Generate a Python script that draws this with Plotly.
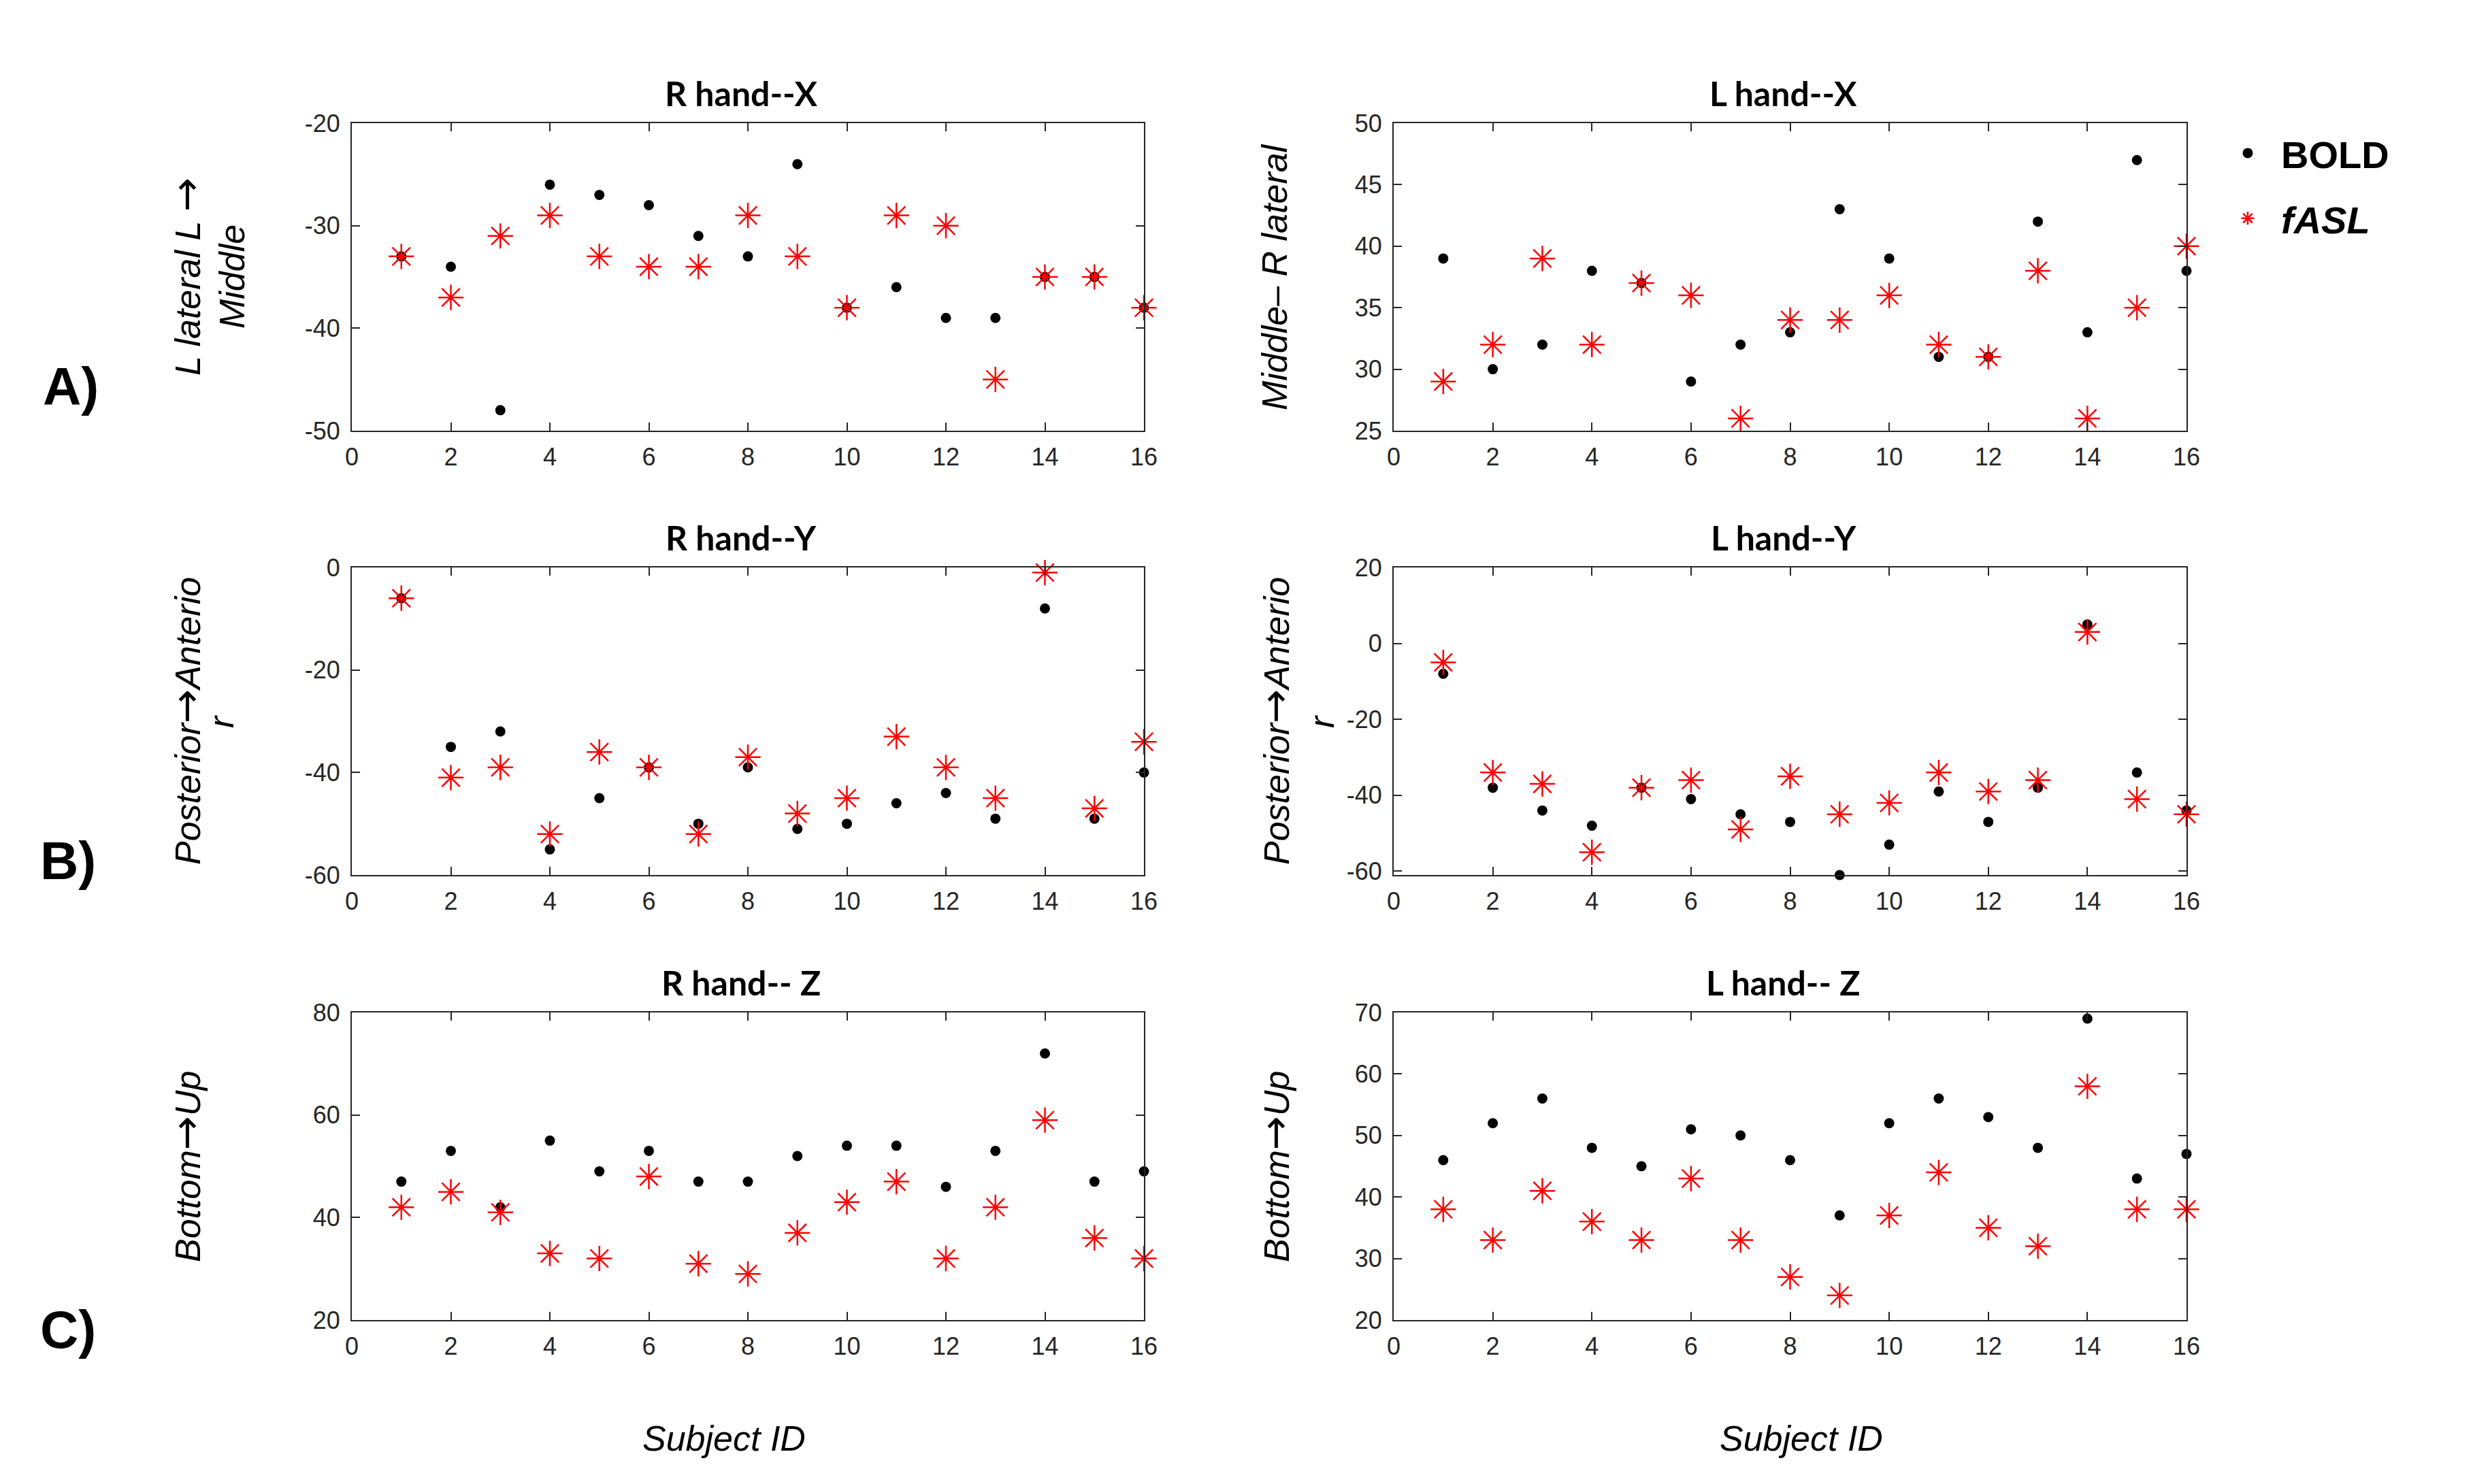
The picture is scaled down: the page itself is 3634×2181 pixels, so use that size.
import plotly.graph_objects as go

W, H = 3634, 2181
OFF = 8                      # page body margin of the html page
FW, FH = W - 2 * OFF, H - 2 * OFF

subjects = list(range(1, 17))

# R hand -- X
rx_bold = [-33, -34, -48, -26, -27, -28, -31, -33, -24, -38, -36, -39, -39, -35, -35, -38]
rx_fasl = [-33, -37, -31, -29, -33, -34, -34, -29, -33, -38, -29, -30, -45, -35, -35, -38]
# L hand -- X
lx_bold = [39, 30, 32, 38, 37, 29, 32, 33, 43, 39, 31, 31, 42, 33, 47, 38]
lx_fasl = [29, 32, 39, 32, 37, 36, 26, 34, 34, 36, 32, 31, 38, 26, 35, 40]
# R hand -- Y
ry_bold = [-6, -35, -32, -55, -45, -39, -50, -39, -51, -50, -46, -44, -49, -8, -49, -40]
ry_fasl = [-6, -41, -39, -52, -36, -39, -52, -37, -48, -45, -33, -39, -45, -1, -47, -34]
# L hand -- Y
ly_bold = [-8, -38, -44, -48, -38, -41, -45, -47, -61, -53, -39, -47, -38, 5, -34, -44]
ly_fasl = [-5, -34, -37, -55, -38, -36, -49, -35, -45, -42, -34, -39, -36, 3, -41, -45]
# R hand -- Z
rz_bold = [47, 53, 42, 55, 49, 53, 47, 47, 52, 54, 54, 46, 53, 72, 47, 49]
rz_fasl = [42, 45, 41, 33, 32, 48, 31, 29, 37, 43, 47, 32, 42, 59, 36, 32]
# L hand -- Z
lz_bold = [46, 52, 56, 48, 45, 51, 50, 46, 37, 52, 56, 53, 48, 69, 43, 47]
lz_fasl = [38, 33, 41, 36, 33, 43, 33, 27, 24, 37, 44, 35, 32, 58, 38, 38]

panel_titles = ["R hand--X", "L hand--X", "R hand--Y", "L hand--Y", "R hand-- Z", "L hand-- Z"]
y_ranges = [[-50, -20], [25, 50], [-60, 0], [-61, 20], [20, 80], [20, 70]]
y_ticks = [[-50, -40, -30, -20], [25, 30, 35, 40, 45, 50], [-60, -40, -20, 0],
           [-60, -40, -20, 0, 20], [20, 40, 60, 80], [20, 30, 40, 50, 60, 70]]
y_ticklabels = [["-50", "-40", "-30", "-20"], ["25", "30", "35", "40", "45", "50"],
                ["-60", "-40", "-20", "0"], ["-60", "-40", "-20", "0", "20"],
                ["20", "40", "60", "80"], ["20", "30", "40", "50", "60", "70"]]
x_ticks = [0, 2, 4, 6, 8, 10, 12, 14, 16]
bold_series = [rx_bold, lx_bold, ry_bold, ly_bold, rz_bold, lz_bold]
fasl_series = [rx_fasl, lx_fasl, ry_fasl, ly_fasl, rz_fasl, lz_fasl]
row_labels = ["A)", "B)", "C)"]

# layout geometry (window pixels)
col_x = [(517, 1681), (2048, 3213)]
row_y = [(181, 633), (834, 1286), (1488, 1940)]

def px(x):
    return (x - OFF) / FW

def py(y):
    return 1 - (y - OFF) / FH

AX = "#262626"
TICKFONT = dict(family="Liberation Sans, Arial", size=36, color=AX)
ARROW = "<span style='font-family:DejaVu Sans;font-size:60px;font-style:normal'>→</span>"

fig = go.Figure()
layout = dict(
    width=FW, height=FH, autosize=False,
    margin=dict(l=0, r=0, t=0, b=0, pad=0, autoexpand=False),
    paper_bgcolor="white", plot_bgcolor="white",
    showlegend=True,
)

annotations = []
for i in range(6):
    r, c = divmod(i, 2)
    n = i + 1
    xa = "x" if n == 1 else f"x{n}"
    ya = "y" if n == 1 else f"y{n}"
    xkey = "xaxis" if n == 1 else f"xaxis{n}"
    ykey = "yaxis" if n == 1 else f"yaxis{n}"
    x0, x1 = col_x[c]
    y0, y1 = row_y[r]
    common = dict(showline=True, mirror="ticks", linecolor=AX, linewidth=2,
                  ticks="inside", ticklen=12, tickwidth=2, tickcolor=AX,
                  showgrid=False, zeroline=False, tickfont=TICKFONT, automargin=False)
    layout[xkey] = dict(domain=[px(x0), px(x1)], anchor=ya, range=[0, 16],
                        tickvals=x_ticks, ticktext=[str(v) for v in x_ticks],
                        ticklabelstandoff=6, **common)
    layout[ykey] = dict(domain=[py(y1), py(y0)], anchor=xa, range=y_ranges[i],
                        tickvals=y_ticks[i], ticktext=y_ticklabels[i],
                        ticklabelstandoff=8, **common)

    fig.add_trace(go.Scatter(
        x=subjects, y=bold_series[i], mode="markers", xaxis=xa, yaxis=ya,
        name="<b>BOLD</b>", legendgroup="bold", showlegend=(i == 0),
        marker=dict(symbol="circle", size=15, color="black"),
        cliponaxis=False))
    fig.add_trace(go.Scatter(
        x=subjects, y=fasl_series[i], mode="markers", xaxis=xa, yaxis=ya,
        name="<b><i>fASL</i></b>", legendgroup="fasl", showlegend=(i == 0),
        marker=dict(symbol="asterisk-open", size=31, color="red",
                    line=dict(color="red", width=2.5)),
        cliponaxis=False))

    # panel title
    annotations.append(dict(
        text=f"<b>{panel_titles[i]}</b>", xref="paper", yref="paper",
        x=px((x0 + x1) / 2 - 10), y=py(y0 - 44), xanchor="center", yanchor="middle",
        showarrow=False, font=dict(family="Lato, Liberation Sans", size=50, color="black")))

# y axis titles (each line as its own centred annotation)
ytitle_lines = [
    [("L lateral L " + ARROW, 273), ("Middle", 341)],
    [("Middle– R lateral", 1873)],
    [("Posterior" + ARROW + "Anterio", 273), ("r", 325)],
    [("Posterior" + ARROW + "Anterio", 1873), ("r", 1942)],
    [("Bottom" + ARROW + "Up", 273)],
    [("Bottom" + ARROW + "Up", 1873)],
]
for i, lines in enumerate(ytitle_lines):
    r, c = divmod(i, 2)
    y0, y1 = row_y[r]
    for txt, xc in lines:
        annotations.append(dict(
            text=f"<i>{txt}</i>", xref="paper", yref="paper",
            x=px(xc), y=py((y0 + y1) / 2), xanchor="center", yanchor="middle",
            textangle=-90, showarrow=False,
            font=dict(family="Liberation Sans, Arial", size=52, color="black")))

# x axis titles
for xc in (1064, 2647):
    annotations.append(dict(
        text="<i>Subject ID</i>", xref="paper", yref="paper",
        x=px(xc), y=py(2114), xanchor="center", yanchor="middle", showarrow=False,
        font=dict(family="Liberation Sans, Arial", size=52, color="black")))

# row labels
for lab, (xc, yc) in zip(row_labels, [(104, 568), (100, 1265), (100, 1954)]):
    annotations.append(dict(
        text=f"<b>{lab}</b>", xref="paper", yref="paper",
        x=px(xc), y=py(yc), xanchor="center", yanchor="middle", showarrow=False,
        font=dict(family="Liberation Sans, Arial", size=78, color="black")))

layout["annotations"] = annotations
layout["legend"] = dict(
    x=px(3254), y=py(182), xanchor="left", yanchor="top",
    bgcolor="rgba(0,0,0,0)", borderwidth=0,
    font=dict(family="Liberation Sans, Arial", size=56, color="black"),
    itemwidth=88, tracegroupgap=20,
)

fig.update_layout(**layout)
fig.write_html("out.html")
